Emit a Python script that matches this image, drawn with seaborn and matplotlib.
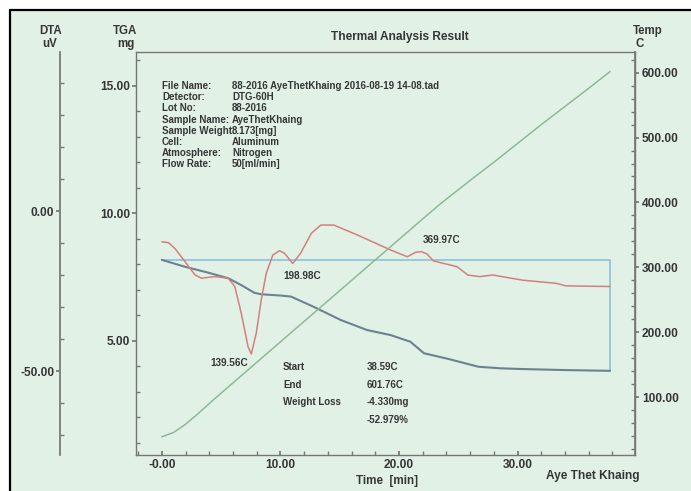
import matplotlib
matplotlib.use("Agg")
import matplotlib.pyplot as plt
import seaborn as sns
from matplotlib.lines import Line2D
from matplotlib.patches import Rectangle
from matplotlib.ticker import FixedLocator, MultipleLocator, FixedFormatter

# ---------------- data ----------------
temp_time = [0, 1, 2, 3, 4.33, 6, 8, 10, 12, 14, 16, 18, 20, 22, 23.5,
             26, 28, 30, 32, 34, 36, 37.8]
temp_c = [38.6, 45.5, 58, 73.5, 95.4, 121.8, 153.4, 185, 216.6, 248.2, 279.8,
          311.4, 343, 374.6, 398, 434, 462, 491, 520, 548, 576, 601.8]

tga_time = [0, 1.95, 3.9, 5.6, 6.7, 7.8, 8.4, 10.06, 10.9, 12.8, 15.1, 17.3,
            19.3, 20.96, 22.1, 24.3, 26.7, 28.5, 30.4, 34, 37.8]
tga_mg = [8.17, 7.90, 7.67, 7.45, 7.18, 6.88, 6.82, 6.77, 6.73, 6.33, 5.81,
          5.42, 5.22, 4.96, 4.51, 4.27, 3.98, 3.92, 3.89, 3.85, 3.82]

dta_time = [0, 0.56, 1.1, 1.95, 2.8, 3.35, 4.47, 5.59, 6.15, 6.7, 7.27, 7.54,
            7.96, 8.38, 8.8, 9.36, 9.92, 10.34, 11.04, 11.7, 12.6, 13.4, 14.5,
            16.5, 19.3, 20.7, 21.4, 21.9, 22.35, 22.9, 24.9, 25.8, 26.8, 27.9,
            30.4, 33.25, 34.1, 37.8]
dta_uv = [-9.6, -9.9, -11.7, -15.8, -20.0, -21.0, -20.5, -21.0, -23.6, -32.0,
          -42.4, -44.7, -38.2, -27.8, -19.5, -13.75, -12.4, -13.2, -16.4, -13.2,
          -7.0, -4.4, -4.4, -7.5, -12.2, -14.3, -12.9, -12.7, -13.4, -15.6,
          -17.4, -20.0, -20.5, -20.0, -21.6, -22.6, -23.4, -23.6]

# weight-loss bracket (start / end)
wl_time = [0, 37.8, 37.8]
wl_mg = [8.173, 8.173, 3.843]

# peak annotations (time, uV, label)
peak_time = [7.54, 11.04, 21.9]
peak_uv = [-44.7, -16.4, -12.7]
peak_labels = ["139.56C", "198.98C", "369.97C"]

time_ticks = [0, 10, 20, 30]
time_tick_labels = ["-0.00", "10.00", "20.00", "30.00"]
tga_ticks = [5, 10, 15]
dta_ticks = [-50, 0]
temp_ticks = [100, 200, 300, 400, 500, 600]

info_keys = ["File Name:", "Detector:", "Lot No:", "Sample Name:",
             "Sample Weight:", "Cell:", "Atmosphere:", "Flow Rate:"]
info_vals = ["88-2016 AyeThetKhaing 2016-08-19 14-08.tad", "DTG-60H", "88-2016",
             "AyeThetKhaing", "8.173[mg]", "Aluminum", "Nitrogen", "50[ml/min]"]
res_keys = ["Start", "End", "Weight Loss", ""]
res_vals = ["38.59C", "601.76C", "-4.330mg", "-52.979%"]

# ---------------- style ----------------
sns.set_theme(style="white")
plt.rcParams['font.family'] = ['Liberation Sans', 'DejaVu Sans']
plt.rcParams['font.weight'] = 'bold'

W, H = 691, 491
BG = '#e2f1e5'
RED = '#d47f7f'
BLUE = '#8cc0dc'
TGA_C = '#6d8290'
GREEN = '#8fb897'
SPINE = '#767676'
TXT = '#363636'
TICK_FS = 8.6
FW = 'bold'

fig = plt.figure(figsize=(W / 100, H / 100), dpi=100)
fig.patch.set_facecolor('white')
fig.add_artist(Rectangle((10 / W, 0), 1 - 10 / W, 1 - 10 / H, transform=fig.transFigure,
                         facecolor=BG, edgecolor='none', zorder=-10))
fig.add_artist(Line2D([10 / W, 10 / W], [0, 1 - 10 / H], transform=fig.transFigure,
                      color='black', lw=1.6))
fig.add_artist(Line2D([10 / W, 1], [1 - 10 / H, 1 - 10 / H], transform=fig.transFigure,
                      color='black', lw=1.6))

L, R, T, B = 136, 635, 52, 455
ax = fig.add_axes([L / W, 1 - B / H, (R - L) / W, (B - T) / H])
ax.set_facecolor('none')
ax_dta = ax.twinx()
ax_temp = ax.twinx()
for a in (ax_dta, ax_temp):
    a.set_facecolor('none')

# ---- curves ----
sns.lineplot(x=temp_time, y=temp_c, ax=ax_temp, color=GREEN, lw=1.1, sort=False, estimator=None)
sns.lineplot(x=wl_time, y=wl_mg, ax=ax, color=BLUE, lw=1.2, sort=False, estimator=None)
sns.lineplot(x=tga_time, y=tga_mg, ax=ax, color=TGA_C, lw=1.5, sort=False, estimator=None)
sns.lineplot(x=dta_time, y=dta_uv, ax=ax_dta, color=RED, lw=1.1, sort=False, estimator=None)

# ---- limits ----
ax.set_xlim(-2.18, 39.9)
ax.set_ylim(0.52, 16.32)
ax_dta.set_ylim(-76.25, 49.69)
ax_temp.set_ylim(10.6, 631.9)

# ---- main axis (TGA + time) ----
for s in ax.spines.values():
    s.set_color(SPINE)
    s.set_linewidth(1.0)
    s.set_visible(True)
ax.xaxis.set_major_locator(FixedLocator(time_ticks))
ax.xaxis.set_major_formatter(FixedFormatter(time_tick_labels))
ax.xaxis.set_minor_locator(MultipleLocator(2))
ax.yaxis.set_major_locator(FixedLocator(tga_ticks))
ax.yaxis.set_major_formatter(FixedFormatter([f"{v:.2f}" for v in tga_ticks]))
ax.yaxis.set_minor_locator(MultipleLocator(1))
ax.tick_params(axis='x', which='both', direction='in', length=3, color=SPINE,
               labelsize=TICK_FS, labelcolor=TXT, pad=3, bottom=True)
ax.tick_params(axis='y', which='major', direction='out', length=3, color=SPINE,
               labelsize=TICK_FS, labelcolor=TXT, pad=1, left=True)
ax.tick_params(axis='y', which='minor', direction='in', length=3, color=SPINE, left=True)
ax.set_xlabel("")
ax.set_ylabel("")

# ---- DTA axis ----
for k in ('right', 'top', 'bottom'):
    ax_dta.spines[k].set_visible(False)
ax_dta.spines['left'].set_visible(True)
ax_dta.spines['left'].set_position(('axes', (60 - L) / (R - L)))
ax_dta.spines['left'].set_color(SPINE)
ax_dta.yaxis.tick_left()
ax_dta.yaxis.set_major_locator(FixedLocator(dta_ticks))
ax_dta.yaxis.set_major_formatter(FixedFormatter([f"{v:.2f}" for v in dta_ticks]))
ax_dta.yaxis.set_minor_locator(MultipleLocator(10))
ax_dta.tick_params(axis='y', which='major', direction='out', length=3, color=SPINE,
                   labelsize=TICK_FS, labelcolor=TXT, pad=1, left=True, right=False)
ax_dta.tick_params(axis='y', which='minor', direction='in', length=3, color=SPINE,
                   left=True, right=False)
ax_dta.set_ylabel("")

# ---- Temp axis ----
for k in ('left', 'top', 'bottom'):
    ax_temp.spines[k].set_visible(False)
ax_temp.spines['right'].set_color(SPINE)
ax_temp.yaxis.set_major_locator(FixedLocator(temp_ticks))
ax_temp.yaxis.set_major_formatter(FixedFormatter([f"{v:.2f}" for v in temp_ticks]))
ax_temp.yaxis.set_minor_locator(MultipleLocator(20))
ax_temp.tick_params(axis='y', which='major', direction='out', length=3, color=SPINE,
                    labelsize=TICK_FS, labelcolor=TXT, pad=2, right=True)
ax_temp.tick_params(axis='y', which='minor', direction='in', length=3, color=SPINE, right=True)
ax_temp.set_ylabel("")

for a in (ax, ax_dta, ax_temp):
    for lab in a.get_xticklabels() + a.get_yticklabels():
        lab.set_fontweight(FW)

# ---- peak labels ----
offsets = [(-16, -6.5), (7, -9), (14.5, 8.6)]
for t, v, lab, off in zip(peak_time, peak_uv, peak_labels, offsets):
    ax_dta.annotate(lab, xy=(t, v), xytext=off, textcoords='offset points',
                    ha='center', va='center', fontsize=7.2, color=TXT, fontweight=FW)


# ---- figure texts ----
def ftext(x, y, s, **kw):
    kw.setdefault('color', TXT)
    kw.setdefault('fontweight', FW)
    fig.text(x / W, 1 - y / H, s, **kw)


ftext(400, 37, "Thermal Analysis Result", ha='center', va='center', fontsize=8.6)
ftext(51, 31, "DTA", ha='center', va='center', fontsize=8.3)
ftext(50, 44, "uV", ha='center', va='center', fontsize=8.3)
ftext(125, 31, "TGA", ha='center', va='center', fontsize=8.3)
ftext(126, 44, "mg", ha='center', va='center', fontsize=8.3)
ftext(648, 31, "Temp", ha='center', va='center', fontsize=8.3)
ftext(640, 44, "C", ha='center', va='center', fontsize=8.3)
ftext(387, 481, "Time  [min]", ha='center', va='center', fontsize=8.4)
ftext(593, 476, "Aye Thet Khaing", ha='center', va='center', fontsize=8.6)

for i, (k, v) in enumerate(zip(info_keys, info_vals)):
    y = 86 + 11.2 * i
    ftext(162, y, k, ha='left', va='center', fontsize=7.0)
    ftext(232, y, v, ha='left', va='center', fontsize=7.0)

for i, (k, v) in enumerate(zip(res_keys, res_vals)):
    y = 367.5 + 17.4 * i
    if k:
        ftext(283, y, k, ha='left', va='center', fontsize=7.0)
    ftext(367, y, v, ha='left', va='center', fontsize=7.0)

fig.savefig("out.png", dpi=100, facecolor=fig.get_facecolor())
